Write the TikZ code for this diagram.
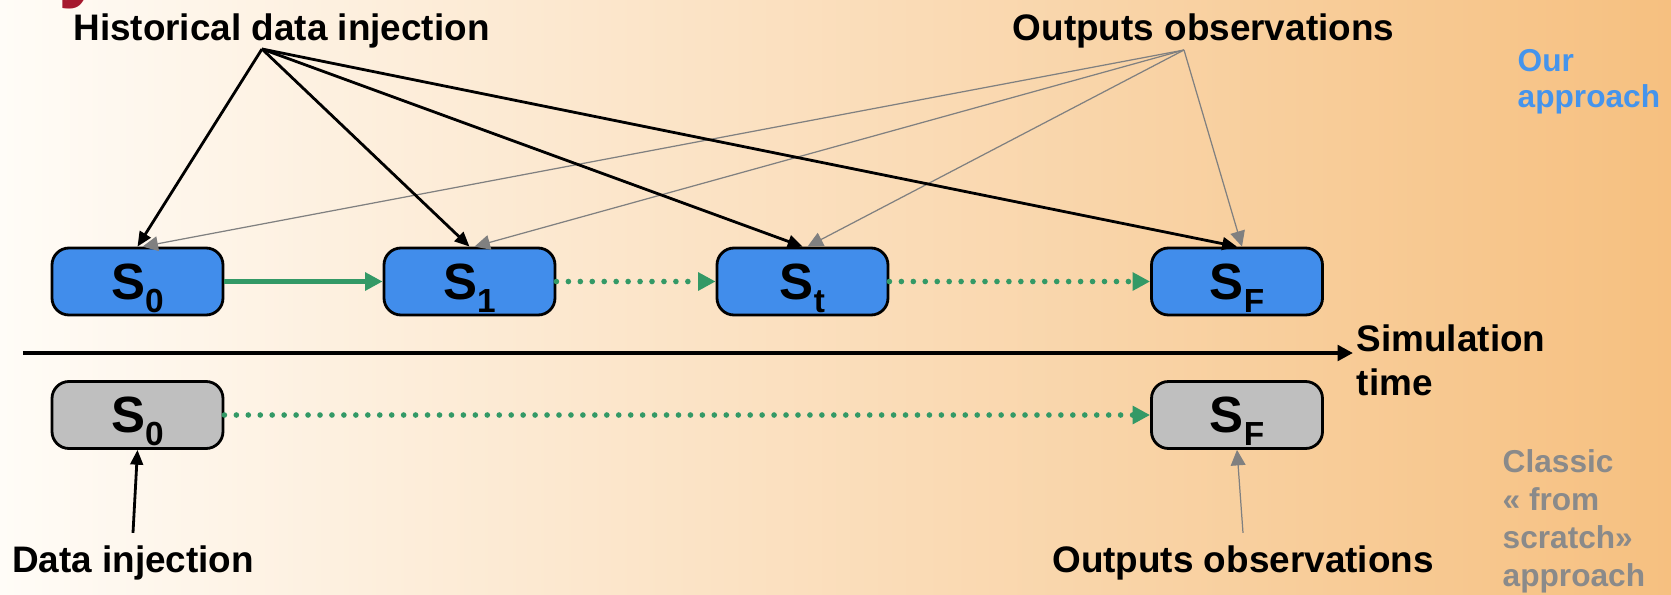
\documentclass[tikz,border=0pt]{standalone}
\usepackage{fontspec}
\setmainfont{Liberation Sans}
\usepackage{tikz}
\usetikzlibrary{arrows.meta,positioning,calc}
\definecolor{bgleft}{HTML}{FFFCF7}
\definecolor{bgmid}{HTML}{FCE5C4}
\definecolor{bgright}{HTML}{F6C080}
\definecolor{stateblue}{HTML}{418DEB}
\definecolor{flowgreen}{HTML}{339966}
\definecolor{noteblue}{HTML}{4594EC}
\definecolor{notegray}{HTML}{8A8A8A}
\definecolor{titlered}{HTML}{A6192E}
\newcommand{\statelabel}[1]{{\fontsize{14.5}{14.5}\selectfont S\raisebox{-3.8pt}[0pt][0pt]{\fontsize{9.5}{9.5}\selectfont #1}}}

\begin{document}
\begin{tikzpicture}[x=1cm,y=1cm,font=\bfseries\fontsize{10.5}{12.5}\selectfont,
  statebox/.style={draw=black,line width=0.8pt,rounded corners=0.17cm,minimum width=1.71cm,minimum height=0.67cm,inner sep=0pt,fill=stateblue},
  classicbox/.style={statebox,fill=black!25},
  histarrow/.style={-{Triangle[length=4.2pt,width=3.6pt]},line width=0.8pt,draw=black},
  obsarrow/.style={-{Triangle[length=4.4pt,width=4.2pt]},line width=0.35pt,draw=black!50},
  flow/.style={-{Triangle[length=5pt,width=5pt]},line width=1.5pt,draw=flowgreen},
  dottedflow/.style={flow,line width=1.6pt,line cap=round,dash pattern=on 0pt off 3.4pt},
  timeaxis/.style={-{Triangle[length=4.4pt,width=4.4pt]},line width=1.2pt,shorten >=0.03cm}]
\path[use as bounding box] (0,0) rectangle (16.71,-5.94);
\shade[left color=bgleft,middle color=bgmid,right color=bgright] (0,0) rectangle (16.71,-5.94);
\node[anchor=base west,inner sep=0pt,text=titlered,font=\bfseries\fontsize{24}{24}\selectfont] (titley) at (0.58,0.09) {y};

\node[anchor=base] (histlab) at (2.815,-0.40) {Historical data injection};
\node[anchor=base] (obslab) at (12.035,-0.40) {Outputs observations};
\node[anchor=north west,align=left,inner sep=0pt,text=noteblue,font=\bfseries\fontsize{9}{10.2}\selectfont] (ours) at (15.17,-0.49) {Our\\approach};

\node[statebox] (S0) at (1.375,-2.815) {\statelabel{0}};
\node[statebox] (S1) at (4.695,-2.815) {\statelabel{1}};
\node[statebox] (St) at (8.025,-2.815) {\statelabel{t}};
\node[statebox] (SF) at (12.37,-2.815) {\statelabel{F}};
\node[classicbox] (S0c) at (1.375,-4.15) {\statelabel{0}};
\node[classicbox] (SFc) at (12.37,-4.15) {\statelabel{F}};

\node[anchor=north west,align=left,inner sep=0pt] (simtime) at (13.56,-3.24) {Simulation\\time};
\node[anchor=base] (injlab) at (1.33,-5.72) {Data injection};
\node[anchor=base] (obslow) at (12.43,-5.72) {Outputs observations};
\node[anchor=north west,align=left,inner sep=0pt,text=notegray,font=\bfseries\fontsize{9}{10.8}\selectfont] (classic) at (15.02,-4.49) {Classic\\« from\\scratch»\\approach};

\coordinate (histfan) at (2.62,-0.49);
\coordinate (obsfan) at (11.84,-0.50);
\coordinate (timestart) at (0.23,-3.53);

\foreach \s in {S0,S1,St,SF}
  \draw[obsarrow] (obsfan) -- ([xshift=0.05cm]\s.north);
\foreach \s in {S0,S1,St,SF}
  \draw[histarrow] (histfan) -- (\s.north);

\draw[flow] (S0) -- (S1);
\draw[dottedflow] (S1) -- (St);
\draw[dottedflow] (St) -- (SF);
\draw[dottedflow] (S0c) -- (SFc);
\draw[timeaxis] (timestart) -- (timestart -| simtime.west);
\draw[histarrow] (injlab.north) -- (S0c.south);
\draw[obsarrow] (obslow.north) -- (SFc.south);
\end{tikzpicture}
\end{document}
